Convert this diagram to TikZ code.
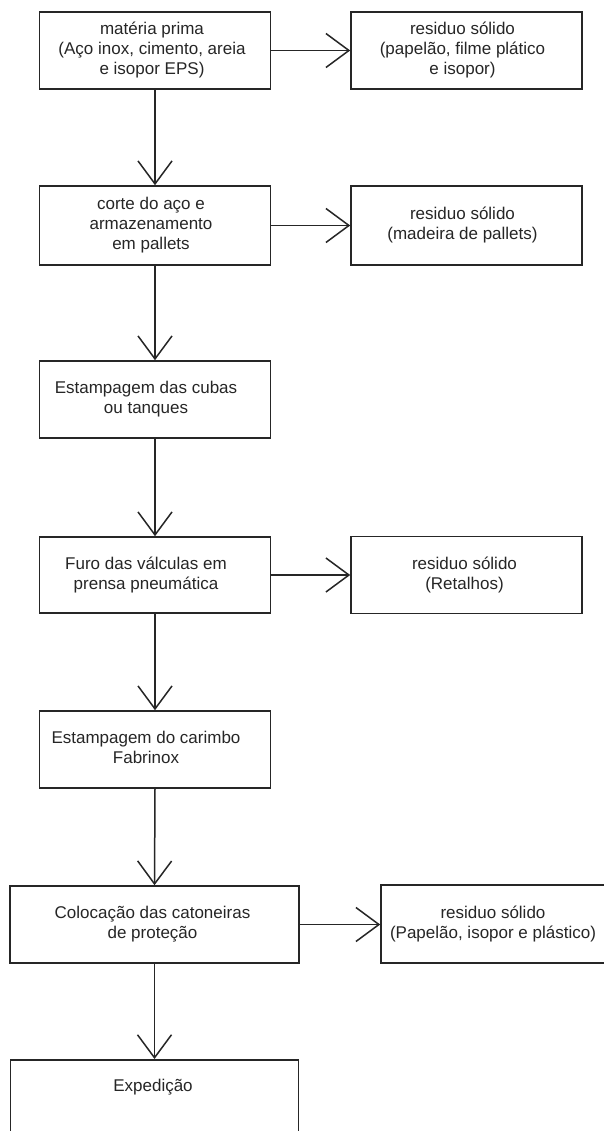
\documentclass[tikz,border=0pt]{standalone}
\usepackage{fontspec}
\setmainfont{Liberation Sans}
\usetikzlibrary{arrows.meta}
\definecolor{ink}{HTML}{262626}
\tikzset{
  box/.style={draw=ink, line width=1.6pt, rectangle, inner sep=0pt, text=ink,
    font=\fontsize{17}{20}\selectfont, minimum width=231pt, minimum height=77pt},
  txt/.style={inner sep=0pt, text=ink, font=\fontsize{17}{20}\selectfont},
  flow/.style={draw=ink, line width=1.5pt,
    -{Straight Barb[length=23pt,width=34pt,line width=1.5pt]}}
}
\newcommand{\pad}[2]{\begin{tabular}{@{}c@{\hspace{#1pt}}}#2\end{tabular}}
\begin{document}
\begin{tikzpicture}[x=1pt,y={(0pt,-1pt)}]
\useasboundingbox (0,0) rectangle (603,1131);
\fill[white] (0,0) rectangle (603,1131);

\node[box] (b1) at (155,50.5) {\pad{6}{matéria prima\\(Aço inox, cimento, areia\\e isopor EPS)}};
\node[box] (r1) at (466.5,50.5) {\pad{8}{residuo sólido\\(papelão, filme plático\\e isopor)}};

\node[box, minimum height=79pt] (b2) at (155,225.5) {\pad{8}{corte do aço e\\armazenamento\\em pallets}};
\node[box, minimum height=79pt] (r2) at (466.5,225.5) {\pad{8}{residuo sólido\\(madeira de pallets)}};

\node[box] (b3) at (155,399.5) {\pad{18}{Estampagem das cubas\\ou tanques}};

\node[box, minimum height=76pt] (b4) at (155,575) {\pad{18}{Furo das válculas em\\prensa pneumática}};
\node[box, minimum height=77pt] (r4) at (466.5,575) {\pad{4}{residuo sólido\\(Retalhos)}};

\node[box] (b5) at (155,749.5) {\pad{18}{Estampagem do carimbo\\Fabrinox}};

\node[box, minimum width=289pt, minimum height=77pt] (b6) at (154.5,924.5) {\pad{4}{Colocação das catoneiras\\de proteção}};
\node[box, minimum width=224pt, minimum height=78pt] (r6) at (493,924) {\pad{0}{residuo sólido\\(Papelão, isopor e plástico)}};

\node[box, minimum width=288pt, minimum height=100pt, anchor=north] (b7) at (154.5,1059) {};
\node[txt] (t7) at (153,1087) {Expedição};

\draw[flow] (b1.east) -- (r1.west);
\draw[flow] (b2.east) -- (r2.west);
\draw[flow] (b4.east) -- (r4.west |- b4.east);
\draw[flow] (b6.east) -- (r6.west |- b6.east);

\draw[flow] (b1.south) -- (b2.north);
\draw[flow] (b2.south) -- (b3.north);
\draw[flow] (b3.south) -- (b4.north);
\draw[flow] (b4.south) -- (b5.north);
\draw[flow] (b5.south) -- (b6.north);
\draw[flow] (b6.south) -- (b7.north);
\end{tikzpicture}
\end{document}
